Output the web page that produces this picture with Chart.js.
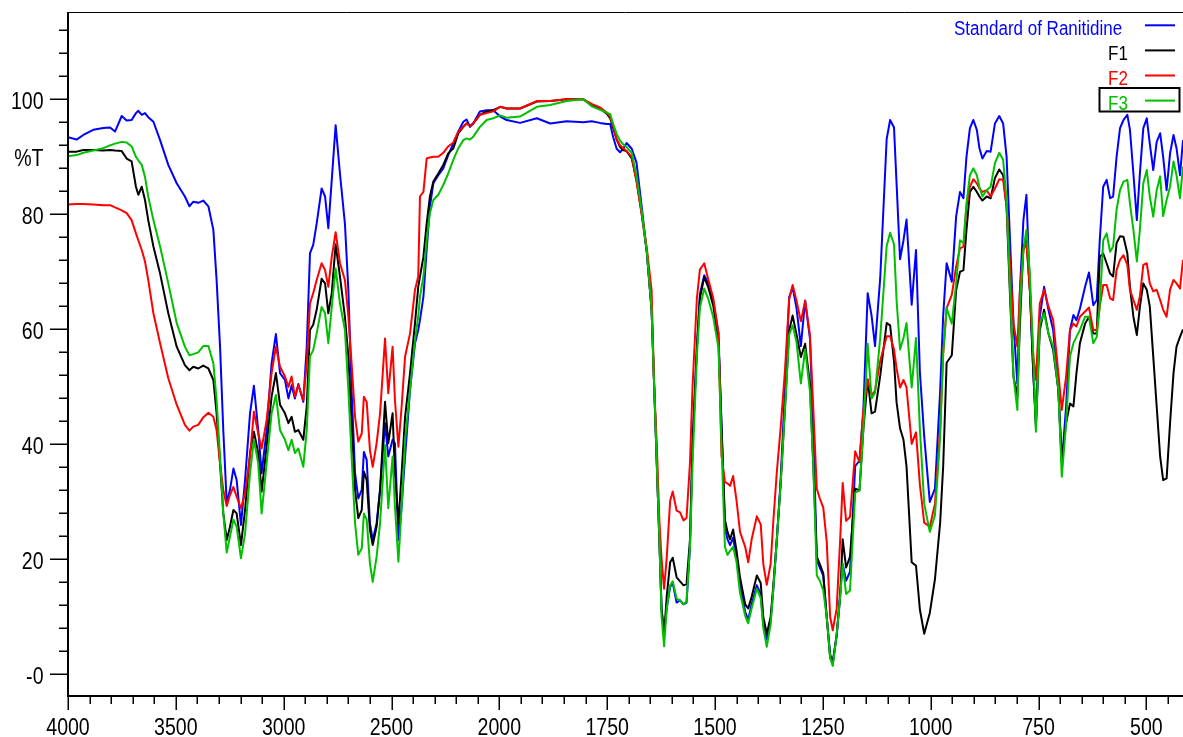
<!DOCTYPE html>
<html>
<head>
<meta charset="utf-8">
<title>FTIR spectra</title>
<script src="https://cdn.jsdelivr.net/npm/chart.js@4.4.0/dist/chart.umd.min.js"></script>
<style>
  html, body { margin: 0; padding: 0; background: #fff; }
  canvas { display: block; }
</style>
</head>
<body>
<canvas id="ftirChart" width="1183" height="737"></canvas>
<script>
// wavenumber (cm-1), high to low
const wavenumbers = [
  4000, 3960, 3929, 3883, 3836, 3805, 3782, 3751, 3728, 3705,
  3685, 3674, 3658, 3643, 3628, 3604, 3573, 3535, 3496, 3458,
  3437, 3419, 3396, 3373, 3349, 3326, 3311, 3295, 3280, 3264,
  3249, 3233, 3218, 3198, 3179, 3156, 3138, 3118, 3102, 3079,
  3056, 3036, 3017, 2994, 2978, 2963, 2948, 2932, 2909, 2893,
  2878, 2863, 2847, 2824, 2808, 2793, 2777, 2759, 2739, 2716,
  2700, 2685, 2669, 2654, 2638, 2628, 2615, 2600, 2587, 2569,
  2553, 2530, 2515, 2495, 2484, 2468, 2453, 2437, 2414, 2391,
  2376, 2368, 2352, 2337, 2322, 2306, 2283, 2260, 2237, 2213,
  2190, 2167, 2152, 2136, 2121, 2090, 2059, 2028, 1998, 1983,
  1952, 1913, 1882, 1844, 1805, 1786, 1767, 1751, 1743, 1736,
  1728, 1720, 1713, 1705, 1693, 1682, 1670, 1658, 1647, 1641,
  1635, 1629, 1624, 1618, 1612, 1604, 1598, 1589, 1581, 1573,
  1566, 1558, 1552, 1542, 1535, 1525, 1516, 1504, 1492, 1485,
  1477, 1471, 1465, 1458, 1450, 1442, 1430, 1423, 1415, 1403,
  1394, 1388, 1380, 1371, 1365, 1357, 1348, 1338, 1328, 1320,
  1311, 1301, 1291, 1280, 1272, 1264, 1257, 1249, 1241, 1233,
  1227, 1218, 1210, 1204, 1196, 1187, 1175, 1165, 1156, 1146,
  1137, 1129, 1117, 1102, 1094, 1085, 1079, 1071, 1063, 1056,
  1044, 1034, 1025, 1015, 1002, 990, 978, 971, 963, 951,
  941, 932, 924, 917, 909, 901, 893, 887, 880, 870,
  861, 851, 841, 832, 824, 816, 808, 799, 793, 785,
  778, 770, 762, 756, 747, 737, 727, 716, 704, 696,
  686, 677, 669, 662, 654, 642, 633, 623, 615, 608,
  600, 592, 584, 577, 569, 561, 553, 544, 538, 530,
  522, 515, 507, 499, 492, 484, 476, 468, 461, 453,
  445, 437, 430, 422, 415
];

// %T, Standard of Ranitidine
const standard = [
  93.4, 93.0, 93.8, 94.7, 95.0, 95.1, 94.4, 97.1, 96.3, 96.4,
  97.6, 98.0, 97.3, 97.6, 96.9, 96.1, 92.9, 88.6, 85.4, 83.1,
  81.4, 82.2, 82.0, 82.4, 81.4, 77.3, 68.6, 57.0, 42.5, 29.8,
  32.1, 35.8, 33.8, 26.0, 33.8, 45.4, 50.2, 42.5, 35.0, 42.5,
  54.1, 59.2, 52.4, 51.2, 48.0, 50.3, 48.0, 50.5, 47.4, 57.0,
  73.2, 74.7, 78.4, 84.5, 83.1, 77.6, 86.0, 95.5, 87.1, 78.4,
  66.9, 49.5, 35.0, 30.6, 32.1, 38.7, 37.3, 26.3, 23.4, 26.3,
  32.1, 43.7, 37.9, 40.8, 40.2, 23.4, 29.2, 37.9, 49.5, 57.6,
  59.9, 61.6, 65.7, 73.8, 81.3, 85.4, 86.8, 88.0, 90.3, 92.4,
  94.4, 96.1, 96.5, 95.2, 95.8, 97.9, 98.1, 98.1, 97.0, 96.4,
  95.9, 96.7, 95.8, 96.2, 96.0, 96.2, 95.9, 95.7, 95.7, 93.4,
  91.4, 90.8, 91.4, 92.4, 91.4, 89.0, 81.4, 73.4, 63.4, 50.1,
  36.8, 23.5, 11.5, 6.9, 11.5, 15.2, 15.9, 12.5, 12.9, 12.2,
  12.5, 22.2, 40.1, 56.8, 66.1, 69.4, 68.1, 64.8, 59.4, 43.5,
  25.5, 23.5, 22.5, 23.8, 20.2, 15.5, 10.9, 9.5, 12.2, 15.5,
  14.0, 8.7, 6.1, 9.4, 14.6, 23.1, 33.6, 49.3, 65.6, 67.3,
  63.7, 57.1, 65.0, 58.5, 42.7, 19.9, 18.6, 17.2, 10.0, 3.5,
  2.2, 6.8, 14.0, 19.2, 16.3, 17.9, 36.2, 37.2, 46.0, 66.3,
  62.4, 57.1, 68.9, 93.1, 96.4, 95.1, 85.3, 72.2, 75.5, 79.1,
  64.3, 73.8, 52.6, 41.4, 30.0, 32.3, 49.3, 62.4, 71.5, 68.3,
  79.6, 83.9, 82.8, 90.0, 95.0, 96.4, 94.7, 91.5, 89.7, 91.0,
  90.9, 95.8, 97.1, 95.8, 90.0, 75.5, 61.0, 50.6, 66.9, 79.0,
  83.4, 66.9, 52.4, 43.7, 62.2, 67.4, 63.4, 59.9, 49.5, 36.7,
  46.6, 59.9, 62.5, 61.6, 63.6, 67.4, 69.9, 64.2, 65.1, 75.5,
  84.8, 86.0, 82.8, 83.1, 90.0, 95.0, 96.4, 97.3, 94.7, 87.1,
  79.0, 87.1, 95.0, 96.7, 92.3, 87.7, 92.6, 94.1, 90.0, 84.2,
  90.6, 93.8, 91.5, 86.8, 92.9
];

// %T, F1
const f1 = [
  90.9, 90.9, 91.2, 91.2, 91.1, 91.2, 91.1, 91.0, 89.7, 89.2,
  84.8, 83.4, 84.8, 82.5, 79.0, 74.4, 69.7, 62.8, 57.0, 53.8,
  52.9, 53.5, 53.2, 53.7, 53.2, 51.2, 45.4, 36.7, 28.0, 23.4,
  25.7, 28.6, 28.0, 22.5, 28.6, 38.5, 42.2, 38.5, 31.8, 39.6,
  48.3, 52.4, 46.9, 45.4, 43.7, 44.8, 42.2, 42.5, 40.8, 46.6,
  59.9, 60.8, 63.4, 68.8, 68.0, 62.8, 66.3, 74.8, 69.2, 62.2,
  55.3, 43.7, 32.1, 27.2, 28.6, 35.3, 33.8, 25.1, 22.5, 25.7,
  32.1, 47.4, 40.2, 45.4, 35.0, 26.3, 35.0, 44.8, 52.4, 61.1,
  67.4, 69.2, 72.6, 78.4, 83.1, 85.7, 87.1, 88.6, 90.6, 91.5,
  94.1, 95.2, 95.8, 95.4, 95.8, 97.3, 97.9, 98.1, 98.7, 98.4,
  98.4, 99.6, 99.7, 100.0, 100.0, 99.0, 98.4, 97.5, 96.7, 95.0,
  93.0, 91.7, 91.2, 91.0, 89.7, 86.0, 80.1, 73.4, 63.4, 50.1,
  36.8, 23.5, 11.5, 6.9, 13.5, 19.5, 20.3, 16.9, 16.2, 15.5,
  15.7, 23.5, 40.1, 56.8, 65.4, 69.1, 67.4, 64.1, 58.1, 43.5,
  26.9, 24.8, 23.5, 25.2, 21.5, 16.9, 12.2, 11.5, 13.5, 17.2,
  15.9, 10.0, 7.1, 10.0, 15.3, 23.1, 32.9, 46.0, 59.8, 62.4,
  59.1, 55.2, 57.5, 50.6, 36.2, 20.5, 19.2, 17.6, 10.0, 2.9,
  1.9, 6.8, 13.3, 23.5, 18.6, 20.5, 32.3, 32.0, 42.7, 51.3,
  45.4, 45.7, 51.9, 61.1, 60.7, 54.5, 47.3, 42.8, 40.8, 36.2,
  19.5, 18.9, 11.3, 7.1, 10.7, 16.6, 26.4, 36.2, 54.2, 55.5,
  66.8, 70.0, 70.3, 77.3, 83.9, 84.8, 83.9, 83.1, 82.4, 83.1,
  82.8, 86.3, 87.8, 86.8, 81.3, 65.7, 51.8, 48.3, 61.0, 74.4,
  75.5, 66.9, 52.4, 43.1, 59.9, 63.4, 59.3, 56.4, 49.5, 37.3,
  43.7, 47.1, 46.6, 52.4, 57.6, 61.0, 62.2, 59.3, 59.3, 72.6,
  73.2, 71.5, 69.7, 69.2, 75.0, 76.2, 76.1, 73.2, 67.4, 62.2,
  59.0, 63.9, 68.0, 66.9, 64.0, 55.3, 46.6, 37.9, 33.8, 34.1,
  43.7, 52.4, 57.0, 58.7, 60.0
];

// %T, F2
const f2 = [
  81.7, 81.8, 81.8, 81.7, 81.6, 81.6, 81.2, 80.7, 80.2, 79.0,
  76.7, 75.5, 73.8, 71.8, 68.6, 62.8, 57.6, 51.5, 46.9, 43.4,
  42.4, 43.1, 43.4, 44.7, 45.5, 44.8, 42.5, 36.7, 32.1, 29.3,
  31.2, 32.6, 30.9, 28.9, 31.5, 37.9, 45.7, 41.9, 39.3, 44.2,
  52.4, 57.0, 53.5, 51.8, 50.0, 51.8, 48.3, 50.3, 47.7, 54.1,
  64.5, 66.3, 68.6, 71.5, 70.3, 67.4, 72.6, 76.9, 71.5, 68.6,
  62.2, 54.1, 44.8, 40.5, 41.9, 48.3, 47.4, 39.0, 36.1, 40.2,
  45.4, 58.4, 48.9, 57.0, 47.7, 39.6, 46.6, 55.3, 59.3, 66.9,
  69.2, 83.1, 83.9, 89.7, 89.9, 90.0, 90.0, 90.7, 91.8, 92.5,
  94.4, 95.2, 95.8, 95.4, 95.8, 97.3, 97.6, 97.9, 98.7, 98.4,
  98.4, 99.7, 99.7, 100.0, 100.0, 99.2, 98.6, 97.7, 97.0, 95.4,
  93.0, 92.0, 91.5, 91.0, 90.0, 85.7, 80.1, 74.1, 66.8, 50.1,
  40.1, 26.8, 20.2, 14.9, 20.2, 30.2, 31.8, 28.5, 28.2, 26.8,
  27.2, 36.8, 50.1, 65.4, 70.4, 71.5, 68.8, 65.4, 59.4, 38.1,
  33.5, 33.2, 32.8, 34.5, 30.2, 24.8, 22.2, 19.5, 23.5, 27.5,
  26.1, 19.2, 15.6, 19.2, 26.4, 34.9, 42.7, 52.6, 65.3, 67.7,
  65.0, 61.4, 65.0, 59.1, 46.0, 32.3, 30.6, 29.0, 23.1, 10.0,
  7.7, 11.4, 23.1, 33.3, 26.7, 27.4, 38.8, 36.9, 46.0, 51.3,
  48.6, 49.3, 54.5, 58.8, 58.8, 56.5, 53.2, 49.9, 51.2, 49.9,
  40.1, 42.1, 33.0, 26.4, 25.7, 29.7, 42.7, 55.8, 63.7, 66.0,
  70.9, 74.1, 74.4, 81.3, 84.8, 86.1, 85.4, 84.5, 83.9, 84.2,
  83.1, 84.5, 86.1, 86.0, 81.3, 71.5, 61.0, 57.0, 66.9, 73.8,
  75.0, 66.9, 55.3, 51.2, 64.5, 66.9, 64.0, 61.6, 52.4, 46.0,
  51.8, 59.9, 61.0, 60.5, 62.2, 63.1, 63.8, 59.9, 59.9, 64.0,
  67.7, 67.7, 65.4, 65.1, 70.3, 72.1, 72.9, 71.2, 66.9, 65.1,
  63.4, 65.7, 71.2, 71.5, 68.0, 66.6, 66.9, 65.1, 63.4, 62.2,
  66.9, 68.6, 68.0, 67.1, 72.1
];

// %T, F3
const f3 = [
  90.1, 90.3, 90.7, 91.1, 91.5, 92.0, 92.3, 92.6, 92.5, 91.8,
  90.0, 89.4, 88.6, 86.5, 83.1, 79.0, 74.4, 68.0, 61.1, 57.0,
  55.5, 55.7, 56.0, 57.1, 57.1, 54.1, 47.7, 37.9, 28.0, 21.2,
  24.0, 26.9, 25.7, 20.2, 24.5, 35.0, 40.8, 36.7, 28.0, 36.7,
  45.4, 48.6, 42.5, 40.8, 39.0, 40.8, 38.5, 39.3, 36.1, 42.5,
  55.3, 56.4, 59.3, 63.9, 62.8, 57.6, 63.9, 70.6, 64.5, 59.9,
  49.5, 37.9, 26.3, 20.8, 21.9, 28.0, 26.9, 19.3, 16.1, 20.5,
  26.3, 39.9, 28.9, 37.9, 29.2, 19.6, 29.2, 40.8, 49.5, 58.2,
  62.2, 65.7, 69.2, 75.5, 80.2, 82.5, 83.4, 85.1, 87.1, 89.5,
  91.5, 92.9, 93.2, 93.0, 93.5, 95.2, 96.4, 96.7, 97.2, 96.8,
  97.0, 98.7, 99.0, 99.7, 100.0, 98.8, 98.2, 97.7, 97.4, 95.7,
  94.0, 92.8, 92.2, 91.7, 90.7, 86.7, 80.7, 73.4, 63.4, 50.1,
  36.8, 23.5, 10.2, 4.9, 11.5, 15.5, 16.2, 13.2, 12.9, 12.2,
  12.7, 22.2, 36.8, 55.4, 63.8, 67.1, 65.4, 62.1, 56.8, 40.1,
  22.2, 20.8, 21.5, 22.2, 19.5, 14.2, 10.2, 8.9, 11.5, 14.9,
  13.3, 8.1, 4.8, 8.7, 14.6, 23.1, 32.9, 46.0, 59.1, 60.7,
  57.8, 50.6, 56.5, 49.3, 36.2, 17.2, 16.3, 14.6, 10.0, 2.9,
  1.5, 6.8, 13.3, 19.2, 14.0, 14.6, 31.6, 32.0, 42.7, 57.5,
  48.0, 49.0, 58.5, 74.5, 76.8, 74.8, 65.0, 56.5, 58.5, 61.1,
  49.9, 58.5, 42.7, 29.7, 24.8, 27.7, 41.4, 55.8, 63.7, 61.0,
  68.0, 75.5, 75.0, 81.9, 86.8, 88.0, 86.8, 84.8, 83.1, 84.2,
  84.8, 88.9, 90.7, 89.5, 82.5, 66.9, 51.8, 46.0, 64.0, 73.8,
  77.3, 69.7, 55.3, 42.2, 61.0, 62.8, 59.3, 57.0, 49.5, 34.4,
  43.7, 55.3, 57.6, 58.7, 59.9, 62.2, 62.2, 57.6, 58.7, 64.0,
  75.5, 76.7, 73.5, 74.4, 80.8, 84.2, 85.7, 86.0, 81.9, 77.3,
  71.8, 77.3, 85.4, 87.7, 83.1, 79.6, 84.2, 86.6, 79.7, 82.5,
  84.8, 89.2, 86.8, 82.8, 88.3
];

const seriesNames = ['Standard of Ranitidine', 'F1', 'F2', 'F3'];
const seriesColors = ['#0000ff', '#000000', '#ff0000', '#00c000'];
const seriesValues = [standard, f1, f2, f3];

const xTickLabels = [4000, 3500, 3000, 2500, 2000, 1750, 1500, 1250, 1000, 750, 500];
const yTickLabels = [0, 20, 40, 60, 80, 100];

// the spectrometer plots 4000-2000 at half the scale of 2000-400
const SCALE_BREAK = 2000;
const warp = w => (w > SCALE_BREAK ? SCALE_BREAK + (w - SCALE_BREAK) / 2 : w);
const unwarp = p => (p > SCALE_BREAK ? SCALE_BREAK + (p - SCALE_BREAK) * 2 : p);

class WavenumberScale extends Chart.LinearScale {
  getPixelForValue(value) {
    const hi = warp(this.max);
    const lo = warp(this.min);
    return this.getPixelForDecimal((hi - warp(value)) / (hi - lo));
  }
  getValueForPixel(pixel) {
    const hi = warp(this.max);
    const lo = warp(this.min);
    return unwarp(hi - this.getDecimalForPixel(pixel) * (hi - lo));
  }
}
WavenumberScale.id = 'wavenumber';
WavenumberScale.defaults = Chart.LinearScale.defaults;
Chart.register(WavenumberScale);

const FONT = '"Liberation Sans", Arial, sans-serif';
const CONDENSE = 0.85; // the original labels are horizontally squeezed

function drawText(ctx, text, x, y, align, size, color) {
  ctx.save();
  ctx.translate(x, y);
  ctx.scale(CONDENSE, 1);
  ctx.font = size + 'px ' + FONT;
  ctx.fillStyle = color;
  ctx.textAlign = align;
  ctx.textBaseline = 'alphabetic';
  ctx.fillText(text, 0, 0);
  ctx.restore();
}

// axis lines, tick marks, tick labels and the legend in the spectrometer style
const spectrumFrame = {
  id: 'spectrumFrame',
  afterDraw(chart) {
    const { ctx, chartArea: area } = chart;
    const xs = chart.scales.x;
    const ys = chart.scales.y;
    ctx.save();
    ctx.strokeStyle = '#000';

    ctx.lineWidth = 2;
    ctx.beginPath();
    ctx.moveTo(area.left, area.top);
    ctx.lineTo(area.left, area.bottom);
    ctx.lineTo(area.right, area.bottom);
    ctx.stroke();

    ctx.lineWidth = 1;
    ctx.beginPath();
    ctx.moveTo(area.left, area.top + 0.5);
    ctx.lineTo(area.right, area.top + 0.5);
    ctx.stroke();

    // x ticks: minor every 100 above 2000, every 50 below
    ctx.lineWidth = 1.5;
    ctx.beginPath();
    for (let w = 4000; w >= 450; w -= (w > SCALE_BREAK ? 100 : 50)) {
      const px = Math.round(xs.getPixelForValue(w)) + 0.25;
      const len = xTickLabels.includes(w) ? 14 : 8;
      ctx.moveTo(px, area.bottom);
      ctx.lineTo(px, area.bottom + len);
    }
    ctx.stroke();

    // y ticks every 4 %T
    ctx.beginPath();
    for (let v = 0; v <= 112; v += 4) {
      const py = Math.round(ys.getPixelForValue(v)) + 0.25;
      const len = v % 20 === 0 ? 18 : 9;
      ctx.moveTo(area.left, py);
      ctx.lineTo(area.left - len, py);
    }
    ctx.stroke();

    xTickLabels.forEach(w => {
      drawText(ctx, String(w), xs.getPixelForValue(w), 735, 'center', 23, '#000');
    });
    yTickLabels.forEach(v => {
      const label = v === 0 ? '-0' : String(v);
      drawText(ctx, label, 43.5, ys.getPixelForValue(v) + 9.5, 'right', 23, '#000');
    });
    drawText(ctx, '%T', 43.5, ys.getPixelForValue(90) + 9.5, 'right', 23, '#000');

    // legend, top right; the last entry is shown selected
    seriesNames.forEach((name, i) => {
      const rowY = 25.3 + i * 25.1;
      const textX = i === 0 ? 954 : 1108;
      drawText(ctx, name, textX, rowY + 9.5, 'left', 20, seriesColors[i]);
      ctx.strokeStyle = seriesColors[i];
      ctx.lineWidth = 2;
      ctx.beginPath();
      ctx.moveTo(1145, rowY);
      ctx.lineTo(1175, rowY);
      ctx.stroke();
    });
    ctx.strokeStyle = '#000';
    ctx.lineWidth = 2;
    ctx.strokeRect(1099.5, 88, 80, 23.5);

    ctx.restore();
  }
};

new Chart(document.getElementById('ftirChart'), {
  type: 'line',
  data: {
    datasets: seriesNames.map((name, i) => ({
      label: name,
      data: wavenumbers.map((w, j) => ({ x: w, y: seriesValues[i][j] })),
      borderColor: seriesColors[i],
      backgroundColor: seriesColors[i],
      borderWidth: 2,
      borderJoinStyle: 'round',
      pointRadius: 0,
      tension: 0,
      fill: false,
      order: seriesNames.length - i // F3 drawn on top
    }))
  },
  options: {
    responsive: false,
    animation: false,
    events: [],
    layout: { padding: { top: 12, right: 0, bottom: 0, left: 0 } },
    plugins: {
      legend: { display: false },
      tooltip: { enabled: false }
    },
    scales: {
      x: {
        type: 'wavenumber',
        position: 'bottom',
        min: 415,
        max: 4000,
        bounds: 'data',
        grid: { display: false, drawTicks: false },
        border: { display: false },
        ticks: { display: false },
        afterBuildTicks: scale => { scale.ticks = xTickLabels.map(v => ({ value: v })); },
        afterFit: scale => { scale.height = 41; }
      },
      y: {
        type: 'linear',
        min: -3.74,
        max: 115.18,
        bounds: 'data',
        grid: { display: false, drawTicks: false },
        border: { display: false },
        ticks: { display: false },
        afterBuildTicks: scale => { scale.ticks = yTickLabels.map(v => ({ value: v })); },
        afterFit: scale => { scale.width = 68; }
      }
    }
  },
  plugins: [spectrumFrame]
});
</script>
</body>
</html>
